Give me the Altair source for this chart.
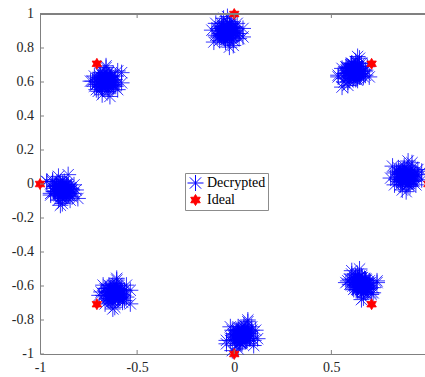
import altair as alt
import pandas as pd

# ---- Decrypted symbol clusters: outer spread + dense core ----
top_x = [-0.035,-0.015,-0.065,-0.025,-0.055,0.005,-0.085,-0.025,-0.045,0.025,-0.095,-0.005,-0.065,0.015,-0.075,-0.015,-0.055,-0.035,-0.045,0.045,-0.115,-0.005,-0.055,0.025,-0.095,0.005,-0.075,-0.035,-0.015,-0.085,0.045,-0.105,-0.035,-0.025,0.015,-0.065,
         -0.025,-0.045,-0.015,-0.055,-0.005,-0.065,-0.035,-0.02,-0.05,-0.01,-0.06,0.0,-0.07,-0.03,-0.04,0.005,-0.075,-0.015,-0.055,-0.025,-0.045,-0.005,-0.065,-0.035,0.01,-0.08,-0.02,-0.05,-0.01,-0.06,-0.03,-0.04,0.0,-0.07,-0.015,-0.055]
top_y = [0.895,0.905,0.915,0.865,0.875,0.925,0.915,0.945,0.835,0.885,0.875,0.845,0.945,0.945,0.845,0.925,0.895,0.875,0.925,0.915,0.905,0.815,0.975,0.855,0.945,0.895,0.925,0.855,0.955,0.865,0.865,0.835,0.985,0.805,0.875,0.885,
         0.915,0.885,0.875,0.925,0.905,0.865,0.935,0.86,0.91,0.92,0.88,0.89,0.90,0.855,0.925,0.905,0.885,0.865,0.93,0.94,0.85,0.915,0.915,0.895,0.885,0.905,0.935,0.855,0.87,0.925,0.91,0.875,0.92,0.875,0.895,0.86]

ul_x = [-0.66,-0.64,-0.69,-0.65,-0.68,-0.62,-0.71,-0.65,-0.67,-0.60,-0.72,-0.63,-0.69,-0.61,-0.70,-0.64,-0.68,-0.66,-0.67,-0.58,-0.74,-0.63,-0.68,-0.60,-0.72,-0.62,-0.70,-0.66,-0.64,-0.71,-0.58,-0.73,-0.66,-0.65,-0.61,-0.69,
        -0.65,-0.67,-0.64,-0.68,-0.63,-0.69,-0.66,-0.645,-0.675,-0.635,-0.685,-0.625,-0.695,-0.655,-0.665,-0.62,-0.70,-0.64,-0.68,-0.65,-0.67,-0.63,-0.69,-0.66,-0.615,-0.705,-0.645,-0.675,-0.635,-0.685,-0.655,-0.665,-0.625,-0.695,-0.64,-0.68]
ul_y = [0.635,0.625,0.655,0.545,0.595,0.585,0.555,0.655,0.655,0.555,0.635,0.605,0.585,0.635,0.625,0.615,0.525,0.685,0.565,0.655,0.605,0.635,0.565,0.665,0.575,0.575,0.545,0.695,0.515,0.585,0.595,0.605,0.615,0.625,0.575,0.585,
        0.585,0.615,0.625,0.575,0.595,0.635,0.565,0.64,0.59,0.58,0.62,0.61,0.60,0.645,0.575,0.595,0.615,0.635,0.57,0.56,0.65,0.585,0.585,0.605,0.615,0.595,0.565,0.645,0.63,0.575,0.59,0.625,0.58,0.625,0.605,0.64]

ur_x = [0.615,0.595,0.645,0.605,0.635,0.575,0.665,0.605,0.625,0.555,0.675,0.585,0.645,0.565,0.655,0.595,0.635,0.615,0.625,0.535,0.695,0.585,0.635,0.555,0.675,0.575,0.655,0.615,0.595,0.665,0.535,0.685,0.615,0.605,0.565,0.645,
        0.605,0.625,0.595,0.635,0.585,0.645,0.615,0.60,0.63,0.59,0.64,0.58,0.65,0.61,0.62,0.575,0.655,0.595,0.635,0.605,0.625,0.585,0.645,0.615,0.57,0.66,0.60,0.63,0.59,0.64,0.61,0.62,0.58,0.65,0.595,0.635]
ur_y = [0.64,0.61,0.71,0.71,0.61,0.69,0.66,0.64,0.69,0.68,0.67,0.58,0.74,0.62,0.71,0.66,0.69,0.62,0.72,0.63,0.63,0.60,0.75,0.57,0.64,0.65,0.66,0.67,0.68,0.63,0.64,0.69,0.68,0.71,0.60,0.65,
        0.68,0.65,0.64,0.69,0.67,0.63,0.70,0.625,0.675,0.685,0.645,0.655,0.665,0.62,0.69,0.67,0.65,0.63,0.695,0.705,0.615,0.68,0.68,0.66,0.65,0.67,0.70,0.62,0.635,0.69,0.675,0.64,0.685,0.64,0.66,0.625]

r_x = [0.885,0.905,0.855,0.895,0.865,0.925,0.835,0.895,0.875,0.945,0.825,0.915,0.855,0.935,0.845,0.905,0.865,0.885,0.875,0.965,0.805,0.915,0.865,0.945,0.825,0.925,0.845,0.885,0.905,0.835,0.965,0.815,0.885,0.895,0.935,0.855,
       0.895,0.875,0.905,0.865,0.915,0.855,0.885,0.90,0.87,0.91,0.86,0.92,0.85,0.89,0.88,0.925,0.845,0.905,0.865,0.895,0.875,0.915,0.855,0.885,0.93,0.84,0.90,0.87,0.91,0.86,0.89,0.88,0.92,0.85,0.905,0.865]
r_y = [0.045,0.035,0.025,0.075,0.065,0.015,0.025,-0.005,0.105,0.055,0.065,0.095,-0.005,-0.005,0.095,0.015,0.045,0.065,0.015,0.025,0.035,0.125,-0.035,0.085,-0.005,0.045,0.015,0.085,-0.015,0.075,0.075,0.105,-0.045,0.135,0.065,0.055,
       0.025,0.055,0.065,0.015,0.035,0.075,0.005,0.08,0.03,0.02,0.06,0.05,0.04,0.085,0.015,0.035,0.055,0.075,0.01,0.0,0.09,0.025,0.025,0.045,0.055,0.035,0.005,0.085,0.07,0.015,0.03,0.065,0.02,0.065,0.045,0.08]

b_x = [0.04,0.02,0.07,0.03,0.06,0.00,0.09,0.03,0.05,-0.02,0.10,0.01,0.07,-0.01,0.08,0.02,0.06,0.04,0.05,-0.04,0.12,0.01,0.06,-0.02,0.10,0.00,0.08,0.04,0.02,0.09,-0.04,0.11,0.04,0.03,-0.01,0.07,
       0.03,0.05,0.02,0.06,0.01,0.07,0.04,0.025,0.055,0.015,0.065,0.005,0.075,0.035,0.045,0.0,0.08,0.02,0.06,0.03,0.05,0.01,0.07,0.04,-0.005,0.085,0.025,0.055,0.015,0.065,0.035,0.045,0.005,0.075,0.02,0.06]
b_y = [-0.88,-0.97,-0.81,-0.93,-0.84,-0.89,-0.86,-0.93,-0.83,-0.92,-0.92,-0.95,-0.80,-0.98,-0.91,-0.90,-0.89,-0.88,-0.87,-0.92,-0.91,-0.86,-0.87,-0.84,-0.95,-0.90,-0.91,-0.94,-0.84,-0.84,-0.94,-0.86,-0.89,-0.91,-0.86,-0.87,
       -0.91,-0.88,-0.87,-0.92,-0.90,-0.86,-0.93,-0.855,-0.905,-0.915,-0.875,-0.885,-0.895,-0.85,-0.92,-0.90,-0.88,-0.86,-0.925,-0.935,-0.845,-0.91,-0.91,-0.89,-0.88,-0.90,-0.93,-0.85,-0.865,-0.92,-0.905,-0.87,-0.915,-0.87,-0.89,-0.855]

ll_x = [-0.615,-0.595,-0.645,-0.605,-0.635,-0.575,-0.665,-0.605,-0.625,-0.555,-0.675,-0.585,-0.645,-0.565,-0.655,-0.595,-0.635,-0.615,-0.625,-0.535,-0.695,-0.585,-0.635,-0.555,-0.675,-0.575,-0.655,-0.615,-0.595,-0.665,-0.535,-0.685,-0.615,-0.605,-0.565,-0.645,
        -0.605,-0.625,-0.595,-0.635,-0.585,-0.645,-0.615,-0.60,-0.63,-0.59,-0.64,-0.58,-0.65,-0.61,-0.62,-0.575,-0.655,-0.595,-0.635,-0.605,-0.625,-0.585,-0.645,-0.615,-0.57,-0.66,-0.60,-0.63,-0.59,-0.64,-0.61,-0.62,-0.58,-0.65,-0.595,-0.635]
ll_y = [-0.645,-0.615,-0.685,-0.585,-0.675,-0.675,-0.705,-0.555,-0.735,-0.665,-0.655,-0.645,-0.635,-0.625,-0.675,-0.665,-0.615,-0.625,-0.595,-0.705,-0.655,-0.665,-0.695,-0.595,-0.595,-0.695,-0.615,-0.645,-0.665,-0.615,-0.625,-0.635,-0.725,-0.565,-0.685,-0.595,
        -0.625,-0.655,-0.665,-0.615,-0.635,-0.675,-0.605,-0.68,-0.63,-0.62,-0.66,-0.65,-0.64,-0.685,-0.615,-0.635,-0.655,-0.675,-0.61,-0.60,-0.69,-0.625,-0.625,-0.645,-0.655,-0.635,-0.605,-0.685,-0.67,-0.615,-0.63,-0.665,-0.62,-0.665,-0.645,-0.68]

l_x = [-0.885,-0.905,-0.855,-0.895,-0.865,-0.925,-0.835,-0.895,-0.875,-0.945,-0.825,-0.915,-0.855,-0.935,-0.845,-0.905,-0.865,-0.885,-0.875,-0.965,-0.805,-0.915,-0.865,-0.945,-0.825,-0.925,-0.845,-0.885,-0.905,-0.835,-0.965,-0.815,-0.885,-0.895,-0.935,-0.855,
       -0.895,-0.875,-0.905,-0.865,-0.915,-0.855,-0.885,-0.90,-0.87,-0.91,-0.86,-0.92,-0.85,-0.89,-0.88,-0.925,-0.845,-0.905,-0.865,-0.895,-0.875,-0.915,-0.855,-0.885,-0.93,-0.84,-0.90,-0.87,-0.91,-0.86,-0.89,-0.88,-0.92,-0.85,-0.905,-0.865]
l_y = [-0.065,-0.095,0.055,-0.125,-0.055,-0.045,-0.035,-0.025,-0.015,-0.065,-0.055,-0.005,-0.015,0.015,-0.095,-0.045,-0.055,-0.085,0.015,0.015,-0.085,-0.005,-0.035,-0.055,-0.005,-0.015,-0.025,-0.115,0.045,-0.075,0.015,-0.035,-0.005,-0.075,0.025,-0.065,
       -0.015,-0.045,-0.055,-0.005,-0.025,-0.065,0.005,-0.07,-0.02,-0.01,-0.05,-0.04,-0.03,-0.075,-0.005,-0.025,-0.045,-0.065,0.0,0.01,-0.08,-0.015,-0.015,-0.035,-0.045,-0.025,0.005,-0.075,-0.06,-0.005,-0.02,-0.055,-0.01,-0.055,-0.035,-0.07]

lr_x = [0.655,0.675,0.625,0.665,0.635,0.695,0.605,0.665,0.645,0.715,0.595,0.685,0.625,0.705,0.615,0.675,0.635,0.655,0.645,0.735,0.575,0.685,0.635,0.715,0.595,0.695,0.615,0.655,0.675,0.605,0.735,0.585,0.655,0.665,0.705,0.625,
        0.665,0.645,0.675,0.635,0.685,0.625,0.655,0.67,0.64,0.68,0.63,0.69,0.62,0.66,0.65,0.695,0.615,0.675,0.635,0.665,0.645,0.685,0.625,0.655,0.70,0.61,0.67,0.64,0.68,0.63,0.66,0.65,0.69,0.62,0.675,0.635]
lr_y = [-0.62,-0.59,-0.57,-0.62,-0.61,-0.60,-0.51,-0.67,-0.55,-0.64,-0.59,-0.62,-0.55,-0.65,-0.56,-0.56,-0.53,-0.68,-0.50,-0.57,-0.58,-0.59,-0.60,-0.61,-0.56,-0.57,-0.62,-0.61,-0.64,-0.53,-0.58,-0.57,-0.54,-0.64,-0.64,-0.54,
        -0.61,-0.58,-0.57,-0.62,-0.60,-0.56,-0.63,-0.555,-0.605,-0.615,-0.575,-0.585,-0.595,-0.55,-0.62,-0.60,-0.58,-0.56,-0.625,-0.635,-0.545,-0.61,-0.61,-0.59,-0.58,-0.60,-0.63,-0.55,-0.565,-0.62,-0.605,-0.57,-0.615,-0.57,-0.59,-0.555]

# ---- Ideal 8-PSK points ----
ideal_x = [0, 0.7071, 1, 0.7071, 0, -0.7071, -1, -0.7071]
ideal_y = [1, 0.7071, 0, -0.7071, -1, -0.7071, 0, 0.7071]

series_names = ["Decrypted", "Ideal"]
x_ticks = [-1, -0.5, 0, 0.5]
y_ticks = [-1, -0.8, -0.6, -0.4, -0.2, 0, 0.2, 0.4, 0.6, 0.8, 1]
y_tick_labels = ["-1", "-0.8", "-0.6", "-0.4", "-0.2", "0", "0.2", "0.4", "0.6", "0.8", "1"]

clusters = [(top_x, top_y), (ul_x, ul_y), (ur_x, ur_y), (r_x, r_y),
            (b_x, b_y), (ll_x, ll_y), (l_x, l_y), (lr_x, lr_y)]
rows = []
for xs, ys in clusters:
    for a, b in zip(xs, ys):
        rows.append({"x": a, "y": b, "series": "Decrypted"})
for a, b in zip(ideal_x, ideal_y):
    rows.append({"x": a, "y": b, "series": "Ideal"})
df = pd.DataFrame(rows)

ASTER = "M-1,0L1,0M0,-1L0,1M-0.707,-0.707L0.707,0.707M-0.707,0.707L0.707,-0.707"
HEXA = ("M0,-1L0.2887,-0.5L0.866,-0.5L0.577,0L0.866,0.5L0.2887,0.5L0,1"
        "L-0.2887,0.5L-0.866,0.5L-0.577,0L-0.866,-0.5L-0.2887,-0.5Z")

FONT = "Liberation Serif"
AX = "#808080"
LBL = "#262626"

xscale = alt.Scale(domain=[-1, 0.982], nice=False, zero=False)
yscale = alt.Scale(domain=[-1, 1], nice=False, zero=False)

x_axis = alt.Axis(values=x_ticks, labelExpr="'' + datum.value", ticks=False, tickSize=0,
                  grid=False, domainColor=AX, labelFont=FONT, labelFontSize=14,
                  labelColor=LBL, labelPadding=6, labelFlush=False,
                  labelOverlap=False, title=None)
y_axis = alt.Axis(values=y_ticks, labels=False, ticks=False, tickSize=0,
                  grid=False, domainColor=AX, title=None)

legend = alt.Legend(title=None, orient="none", legendX=145, legendY=159,
                    fillColor="white", strokeColor="#8c8c8c", padding=2,
                    labelFont=FONT, labelFontSize=14, labelColor="black",
                    labelOffset=3, rowPadding=1, clipHeight=16,
                    symbolStrokeWidth=1, symbolOpacity=1)

points = alt.Chart(df).mark_point(opacity=1, strokeWidth=0.8).encode(
    x=alt.X("x:Q", scale=xscale, axis=x_axis),
    y=alt.Y("y:Q", scale=yscale, axis=y_axis),
    shape=alt.Shape("series:N", scale=alt.Scale(domain=series_names, range=[ASTER, HEXA]), legend=legend),
    stroke=alt.Stroke("series:N", scale=alt.Scale(domain=series_names, range=["#0000ff", "#ff0000"]), legend=legend),
    fill=alt.Fill("series:N", scale=alt.Scale(domain=series_names, range=["transparent", "#ff0000"]), legend=legend),
    size=alt.Size("series:N", scale=alt.Scale(domain=series_names, range=[256, 121]), legend=legend),
)

ytick_df = pd.DataFrame({"v": y_ticks, "label": y_tick_labels})
xtick_df = pd.DataFrame({"v": x_ticks})

y_labels = alt.Chart(ytick_df).mark_text(align="right", baseline="middle", dx=-6,
                                         font=FONT, fontSize=14, color=LBL).encode(
    y=alt.Y("v:Q", scale=yscale, axis=y_axis), x=alt.datum(-1), text="label:N")
y_tick_marks = alt.Chart(ytick_df).mark_tick(orient="horizontal", size=8, thickness=1, color=AX, clip=True, opacity=1).encode(
    y=alt.Y("v:Q", scale=yscale, axis=y_axis), x=alt.datum(-1))
x_tick_bottom = alt.Chart(xtick_df).mark_tick(orient="vertical", size=8, thickness=1, color=AX, clip=True, opacity=1).encode(
    x=alt.X("v:Q", scale=xscale, axis=x_axis), y=alt.datum(-1))
x_tick_top = alt.Chart(xtick_df).mark_tick(orient="vertical", size=8, thickness=1, color=AX, clip=True, opacity=1).encode(
    x=alt.X("v:Q", scale=xscale, axis=x_axis), y=alt.datum(1))
top_line = alt.Chart(ytick_df).mark_rule(color=AX, strokeWidth=1).encode(y=alt.datum(1))

chart = alt.layer(points, top_line, y_tick_marks, x_tick_bottom, x_tick_top, y_labels).properties(
    width=385, height=340,
    autosize=alt.AutoSizeParams(type="none"),
    padding={"left": 40, "top": 14, "right": 0, "bottom": 23},
    background="white",
).configure_view(stroke=None).configure_axis(labelOverlap=False, labelFlush=False)

chart.save("out.html", embed_options={"renderer": "svg", "actions": False})
